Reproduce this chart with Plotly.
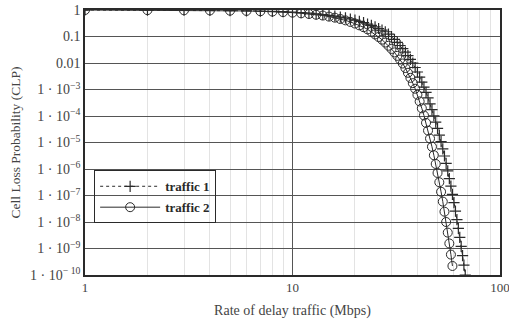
import plotly.graph_objects as go

# Rate of delay traffic (Mbps)
rate_t1 = list(range(1, 69))
rate_t2 = list(range(1, 60))

# Cell loss probability, traffic 1
clp_t1 = [1.0, 0.991, 0.982, 0.970, 0.955, 0.933, 0.912, 0.891, 0.861, 0.832,
          0.794, 0.759, 0.716, 0.676, 0.631, 0.589, 0.543, 0.501, 0.457, 0.417,
          0.372, 0.331, 0.295, 0.263, 0.229, 0.200, 0.174, 0.151, 0.123, 0.100,
          0.0776, 0.0603, 0.0457, 0.0347, 0.0257, 0.0191, 0.0138, 0.0100, 6.76e-3, 4.57e-3,
          2.95e-3, 1.91e-3, 1.23e-3, 7.76e-4, 4.79e-4, 2.88e-4, 1.74e-4, 1.02e-4, 5.89e-5, 3.39e-5,
          1.91e-5, 1.07e-5, 5.75e-6, 3.09e-6, 1.62e-6, 8.51e-7, 4.37e-7, 2.24e-7, 1.10e-7, 5.37e-8,
          2.57e-8, 1.23e-8, 5.75e-9, 2.63e-9, 1.20e-9, 5.37e-10, 2.34e-10, 1.0e-10]

# Cell loss probability, traffic 2
clp_t2 = [1.0, 0.989, 0.977, 0.964, 0.944, 0.923, 0.897, 0.871, 0.832, 0.794,
          0.750, 0.708, 0.661, 0.617, 0.562, 0.513, 0.457, 0.407, 0.355, 0.309,
          0.263, 0.224, 0.186, 0.151, 0.120, 0.0955, 0.0759, 0.0589, 0.0447, 0.0339,
          0.0251, 0.0186, 0.0135, 9.55e-3, 6.46e-3, 4.27e-3, 2.75e-3, 1.74e-3, 1.07e-3, 6.31e-4,
          3.55e-4, 1.95e-4, 1.05e-4, 5.50e-5, 2.82e-5, 1.41e-5, 6.92e-6, 3.31e-6, 1.55e-6, 7.08e-7,
          3.16e-7, 1.38e-7, 5.89e-8, 2.45e-8, 1.0e-8, 3.98e-9, 1.55e-9, 5.89e-10, 2.19e-10]

y_tickvals = [1, 0.1, 0.01, 1e-3, 1e-4, 1e-5, 1e-6, 1e-7, 1e-8, 1e-9, 1e-10]
y_ticktext = ["1", "0.1", "0.01",
              "1 · 10<sup>−3</sup>", "1 · 10<sup>−4</sup>", "1 · 10<sup>−5</sup>",
              "1 · 10<sup>−6</sup>", "1 · 10<sup>−7</sup>", "1 · 10<sup>−8</sup>",
              "1 · 10<sup>−9</sup>", "1 · 10<sup>− 10</sup>"]
x_tickvals = [1, 10, 100]
x_ticktext = ["1", "10", "100"]

ink = "#2a2a2a"
serif = "Liberation Serif"

fig = go.Figure()
fig.add_trace(go.Scatter(
    x=rate_t1, y=clp_t1, name="traffic 1", mode="lines+markers",
    line=dict(color=ink, width=1, dash="dot"),
    marker=dict(symbol="cross-thin", size=8, line=dict(color=ink, width=1.2)),
    legendgroup="a"))
fig.add_trace(go.Scatter(
    x=rate_t2, y=clp_t2, name="traffic 2", mode="lines+markers",
    line=dict(color=ink, width=1),
    marker=dict(symbol="circle-open", size=9, color=ink, line=dict(color=ink, width=1)),
    legendgroup="b"))

fig.update_layout(
    width=509, height=319,
    margin=dict(l=85, r=9, t=10, b=44),
    paper_bgcolor="white", plot_bgcolor="white",
    font=dict(family=serif, size=13, color=ink),
    showlegend=True,
    legend=dict(x=0.022, y=0.395, xanchor="left", yanchor="top",
                bgcolor="rgba(255,255,255,0)", bordercolor=ink, borderwidth=1,
                font=dict(family=serif, size=13, color=ink, weight="bold"),
                tracegroupgap=1, itemwidth=60),
)
fig.update_xaxes(
    type="log", range=[0, 2], tickvals=x_tickvals, ticktext=x_ticktext,
    ticks="", showline=True, linecolor=ink, linewidth=1.5, mirror=True,
    showgrid=True, gridcolor="#555555", gridwidth=1,
    minor=dict(showgrid=True, gridcolor="#e3e3e3", gridwidth=1,
               tickvals=[2, 3, 4, 5, 6, 7, 8, 9, 20, 30, 40, 50, 60, 70, 80, 90]),
    tickfont=dict(family=serif, size=13, color="#444"),
    ticklabeloverflow="allow",
    title=dict(text="Rate of delay traffic (Mbps)", font=dict(family=serif, size=14, color="#444"),
               standoff=11),
    automargin=False,
    zeroline=False,
)
fig.update_yaxes(
    type="log", range=[-10, 0], tickvals=y_tickvals, ticktext=y_ticktext,
    ticks="", showline=True, linecolor=ink, linewidth=1.5, mirror=True,
    showgrid=True, gridcolor="#555555", gridwidth=1.3,
    tickfont=dict(family=serif, size=14, color="#444"),
    title=dict(text="Cell Loss Probability (CLP)", font=dict(family=serif, size=13.5, color="#444"),
               standoff=6),
    automargin=False,
    zeroline=False,
)

fig.write_html("out.html", config={"displayModeBar": False},
               post_script="document.body.style.margin='0';")
